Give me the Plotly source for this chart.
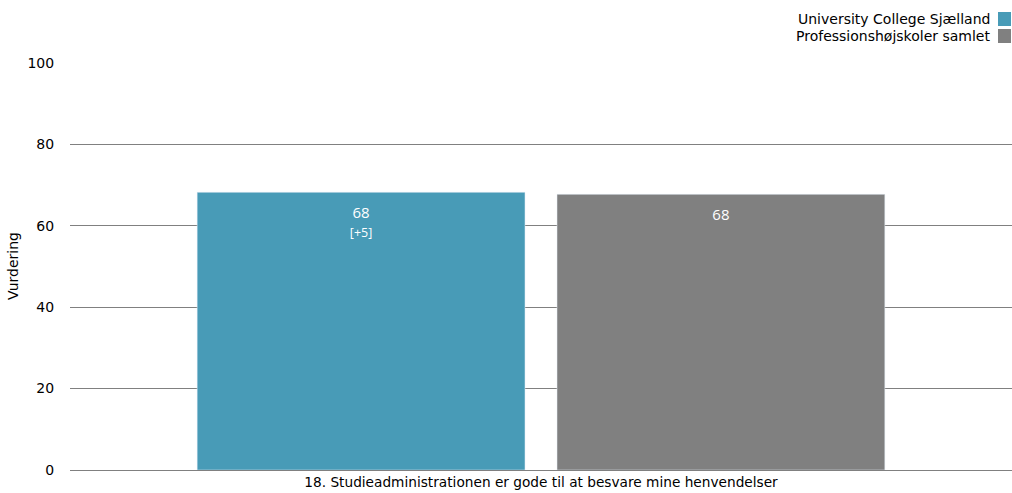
import plotly.graph_objects as go

categories = ["18. Studieadministrationen er gode til at besvare mine henvendelser"]
series_names = ["University College Sjælland", "Professionshøjskoler samlet"]
ucs_values = [68.2]
all_values = [67.7]
ucs_labels = ["68"]
ucs_diff = ["[+5]"]
all_labels = ["68"]
colors = ["#489bb7", "#808080"]

FONT = "Tahoma, Verdana, DejaVu Sans, sans-serif"
BARFONT = "Segoe UI, Open Sans, Noto Sans, sans-serif"

W, H = 1012, 493
ML, MT, MB = 70, 62, 23


def bar_text(lbl, diff=None):
    s = "<span style='font-size:3px'> </span><br>" + lbl
    if diff:
        s += "<br><span style='font-size:12.5px'>" + diff + "</span>"
    return s


fig = go.Figure()
fig.add_trace(go.Bar(
    x=categories, y=ucs_values, name=series_names[0], marker_color=colors[0],
    text=[bar_text(l, d) for l, d in zip(ucs_labels, ucs_diff)],
    textposition="inside", insidetextanchor="end", textangle=0,
    textfont=dict(color="white", size=15, family=BARFONT),
    hoverinfo="skip", showlegend=False,
))
fig.add_trace(go.Bar(
    x=categories, y=all_values, name=series_names[1], marker_color=colors[1],
    text=[bar_text(l) for l in all_labels],
    textposition="inside", insidetextanchor="end", textangle=0,
    textfont=dict(color="white", size=15, family=BARFONT),
    hoverinfo="skip", showlegend=False,
))

# custom legend (text right-aligned, swatch to the right), anchored to plot top-right
for i, (name, col) in enumerate(zip(series_names, colors)):
    y_top = 12 + i * 17
    fig.add_shape(type="rect", xref="paper", yref="paper",
                  xsizemode="pixel", xanchor=1, x0=-14, x1=-1,
                  ysizemode="pixel", yanchor=1, y0=MT - (y_top + 14), y1=MT - y_top,
                  fillcolor=col, line=dict(width=0), layer="above")
    fig.add_annotation(text=name, xref="paper", yref="paper",
                       x=1, y=1, xshift=-20, yshift=MT - (y_top + 7),
                       xanchor="right", yanchor="middle", showarrow=False,
                       font=dict(family=FONT, size=14, color="#000000"))

fig.update_layout(
    width=W, height=H,
    margin=dict(l=ML, r=0, t=MT, b=MB, pad=0, autoexpand=False),
    paper_bgcolor="white", plot_bgcolor="white",
    barmode="group", bargap=0.236, bargroupgap=0.089,
    font=dict(family=FONT, size=13, color="#000000"),
    showlegend=False,
)
fig.update_yaxes(
    range=[0, 100.2], tickvals=[0, 20, 40, 60, 80, 100],
    showgrid=True, gridcolor="#808080", gridwidth=1,
    zeroline=False, showline=False, automargin=False,
    tickfont=dict(family=FONT, size=14, color="#000000"),
    ticks="outside", ticklen=12, tickcolor="white", tickwidth=1,
    title=dict(text="Vurdering", font=dict(family=FONT, size=14, color="#000000"), standoff=5),
)
fig.update_xaxes(
    showline=True, linecolor="#808080", linewidth=1, automargin=False,
    tickfont=dict(family=FONT, size=13.7, color="#000000"),
    ticks="",
)

fig.write_html(
    "out.html",
    config={"displayModeBar": False, "responsive": False},
    post_script="document.body.style.margin='0';document.body.style.overflow='hidden';",
)
